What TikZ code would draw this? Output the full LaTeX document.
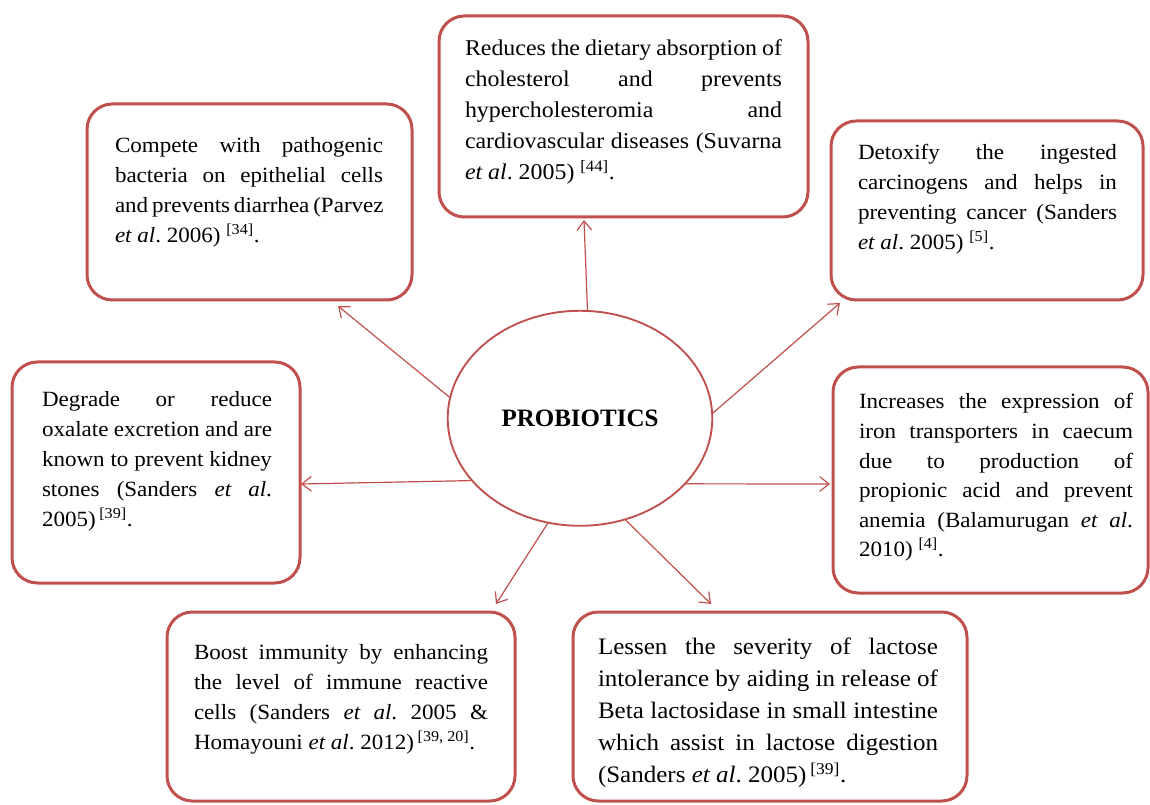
\documentclass[tikz,border=0pt]{standalone}
\usepackage{fontspec}
\setmainfont{Liberation Serif}
\newfontfamily\bxfont[FakeStretch=1.06]{Liberation Serif}
\usetikzlibrary{arrows.meta,calc,shapes.geometric}
\definecolor{brd}{RGB}{192,80,77}
\frenchspacing
\newdimen\jw
\newcommand\jl[1]{\hbox to\jw{#1}}
\newcommand\lastl[1]{\hbox{#1}}
\newcommand\ea{\textit{et al}.}
\newcommand\rf[1]{\textsuperscript{[#1]}}
\begin{document}
\begin{tikzpicture}[x=0.75pt,y=-0.75pt,
  box/.style 2 args={draw=brd, line width=2.25pt, rounded corners=19pt,
    minimum width=#1*0.75pt, minimum height=#2*0.75pt, inner sep=0pt, outer sep=0pt},
  txt/.style={inner sep=0pt, outer sep=0pt, anchor=base west, font=\bxfont},
  conn/.style={draw=brd, line width=0.9pt, -{Straight Barb[length=7pt,width=11pt]}}]
\useasboundingbox (0,0) rectangle (1150,805);

% boxes
\node[box={325}{196}] (b1) at (249.5,202) {};
\node[box={369}{201}] (b2) at (623.5,116.5) {};
\node[box={312}{179}] (b3) at (987,210.5) {};
\node[box={288}{221}] (b4) at (156,472.5) {};
\node[box={315}{226}] (b5) at (990.5,480) {};
\node[box={348}{189}] (b6) at (341,706.5) {};
\node[box={394}{189}] (b7) at (770,706.5) {};

% texts
\node[txt] (t1) at (115,153) {\fontsize{16.3pt}{22.5pt}\selectfont\jw=201pt\vtop{\baselineskip=22.5pt
  \jl{Compete with pathogenic}
  \jl{bacteria on epithelial cells}
  \jl{and prevents diarrhea (Parvez}
  \lastl{\ea\ 2006) \rf{34}.}}};

\node[txt] (t2) at (465,56) {\fontsize{16.9pt}{23.25pt}\selectfont\jw=237.75pt\vtop{\baselineskip=23.25pt
  \jl{Reduces the dietary absorption of}
  \jl{cholesterol and prevents}
  \jl{hypercholesteromia and}
  \jl{cardiovascular diseases (Suvarna}
  \lastl{\ea\ 2005) \rf{44}.}}};

\node[txt] (t3) at (858,160) {\fontsize{16.3pt}{22.5pt}\selectfont\jw=194.25pt\vtop{\baselineskip=22.5pt
  \jl{Detoxify the ingested}
  \jl{carcinogens and helps in}
  \jl{preventing cancer (Sanders}
  \lastl{\ea\ 2005) \rf{5}.}}};

\node[txt] (t4) at (42,407) {\fontsize{16.3pt}{22.5pt}\selectfont\jw=172.5pt\vtop{\baselineskip=22.5pt
  \jl{Degrade or reduce}
  \jl{oxalate excretion and are}
  \jl{known to prevent kidney}
  \jl{stones (Sanders \textit{et al}.}
  \lastl{2005)\,\rf{39}.}}};

\node[txt] (t5) at (859,409) {\fontsize{16.3pt}{22.2pt}\selectfont\jw=205.5pt\vtop{\baselineskip=22.2pt
  \jl{Increases the expression of}
  \jl{iron transporters in caecum}
  \jl{due to production of}
  \jl{propionic acid and prevent}
  \jl{anemia (Balamurugan \textit{et al}.}
  \lastl{2010) \rf{4}.}}};

\node[txt] (t6) at (194,659) {\fontsize{16.3pt}{22.7pt}\selectfont\jw=220.5pt\vtop{\baselineskip=22.7pt
  \jl{Boost immunity by enhancing}
  \jl{the level of immune reactive}
  \jl{cells (Sanders \textit{et al}. 2005 \&}
  \lastl{Homayouni \ea\ 2012)\,\rf{39, 20}.}}};

\node[txt] (t7) at (598,654) {\fontsize{17.7pt}{24.1pt}\selectfont\jw=255pt\vtop{\baselineskip=24.1pt
  \jl{Lessen the severity of lactose}
  \jl{intolerance by aiding in release of}
  \jl{Beta lactosidase in small intestine}
  \jl{which assist in lactose digestion}
  \lastl{(Sanders \ea\ 2005)\,\rf{39}.}}};

% centre
\node[draw=brd, line width=1.4pt, ellipse, minimum width=264.6*0.75pt,
  minimum height=215*0.75pt, inner sep=0pt, outer sep=0pt,
  font=\fontsize{18.75pt}{22pt}\selectfont\bfseries] (e) at (580,418.3) {PROBIOTICS};

% connectors
\draw[conn] (e.86.2) -- ($(b2.south)+(-39.5,3)$);
\draw[conn] (e.171.3) -- ($(b1.south)+(88.5,6)$);
\draw[conn] (e.2.6) -- ($(b3.south west)+(9,3)$);
\draw[conn] (e.210.7) -- ($(b4.east)+(1,11.5)$);
\draw[conn] (e.328.5) -- ($(b5.west)+(-3,4)$);
\draw[conn] (e.253.6) -- ($(b6.north)+(155,-8)$);
\draw[conn] (e.294.7) -- ($(b7.north)+(-59,-8)$);
\end{tikzpicture}
\end{document}
